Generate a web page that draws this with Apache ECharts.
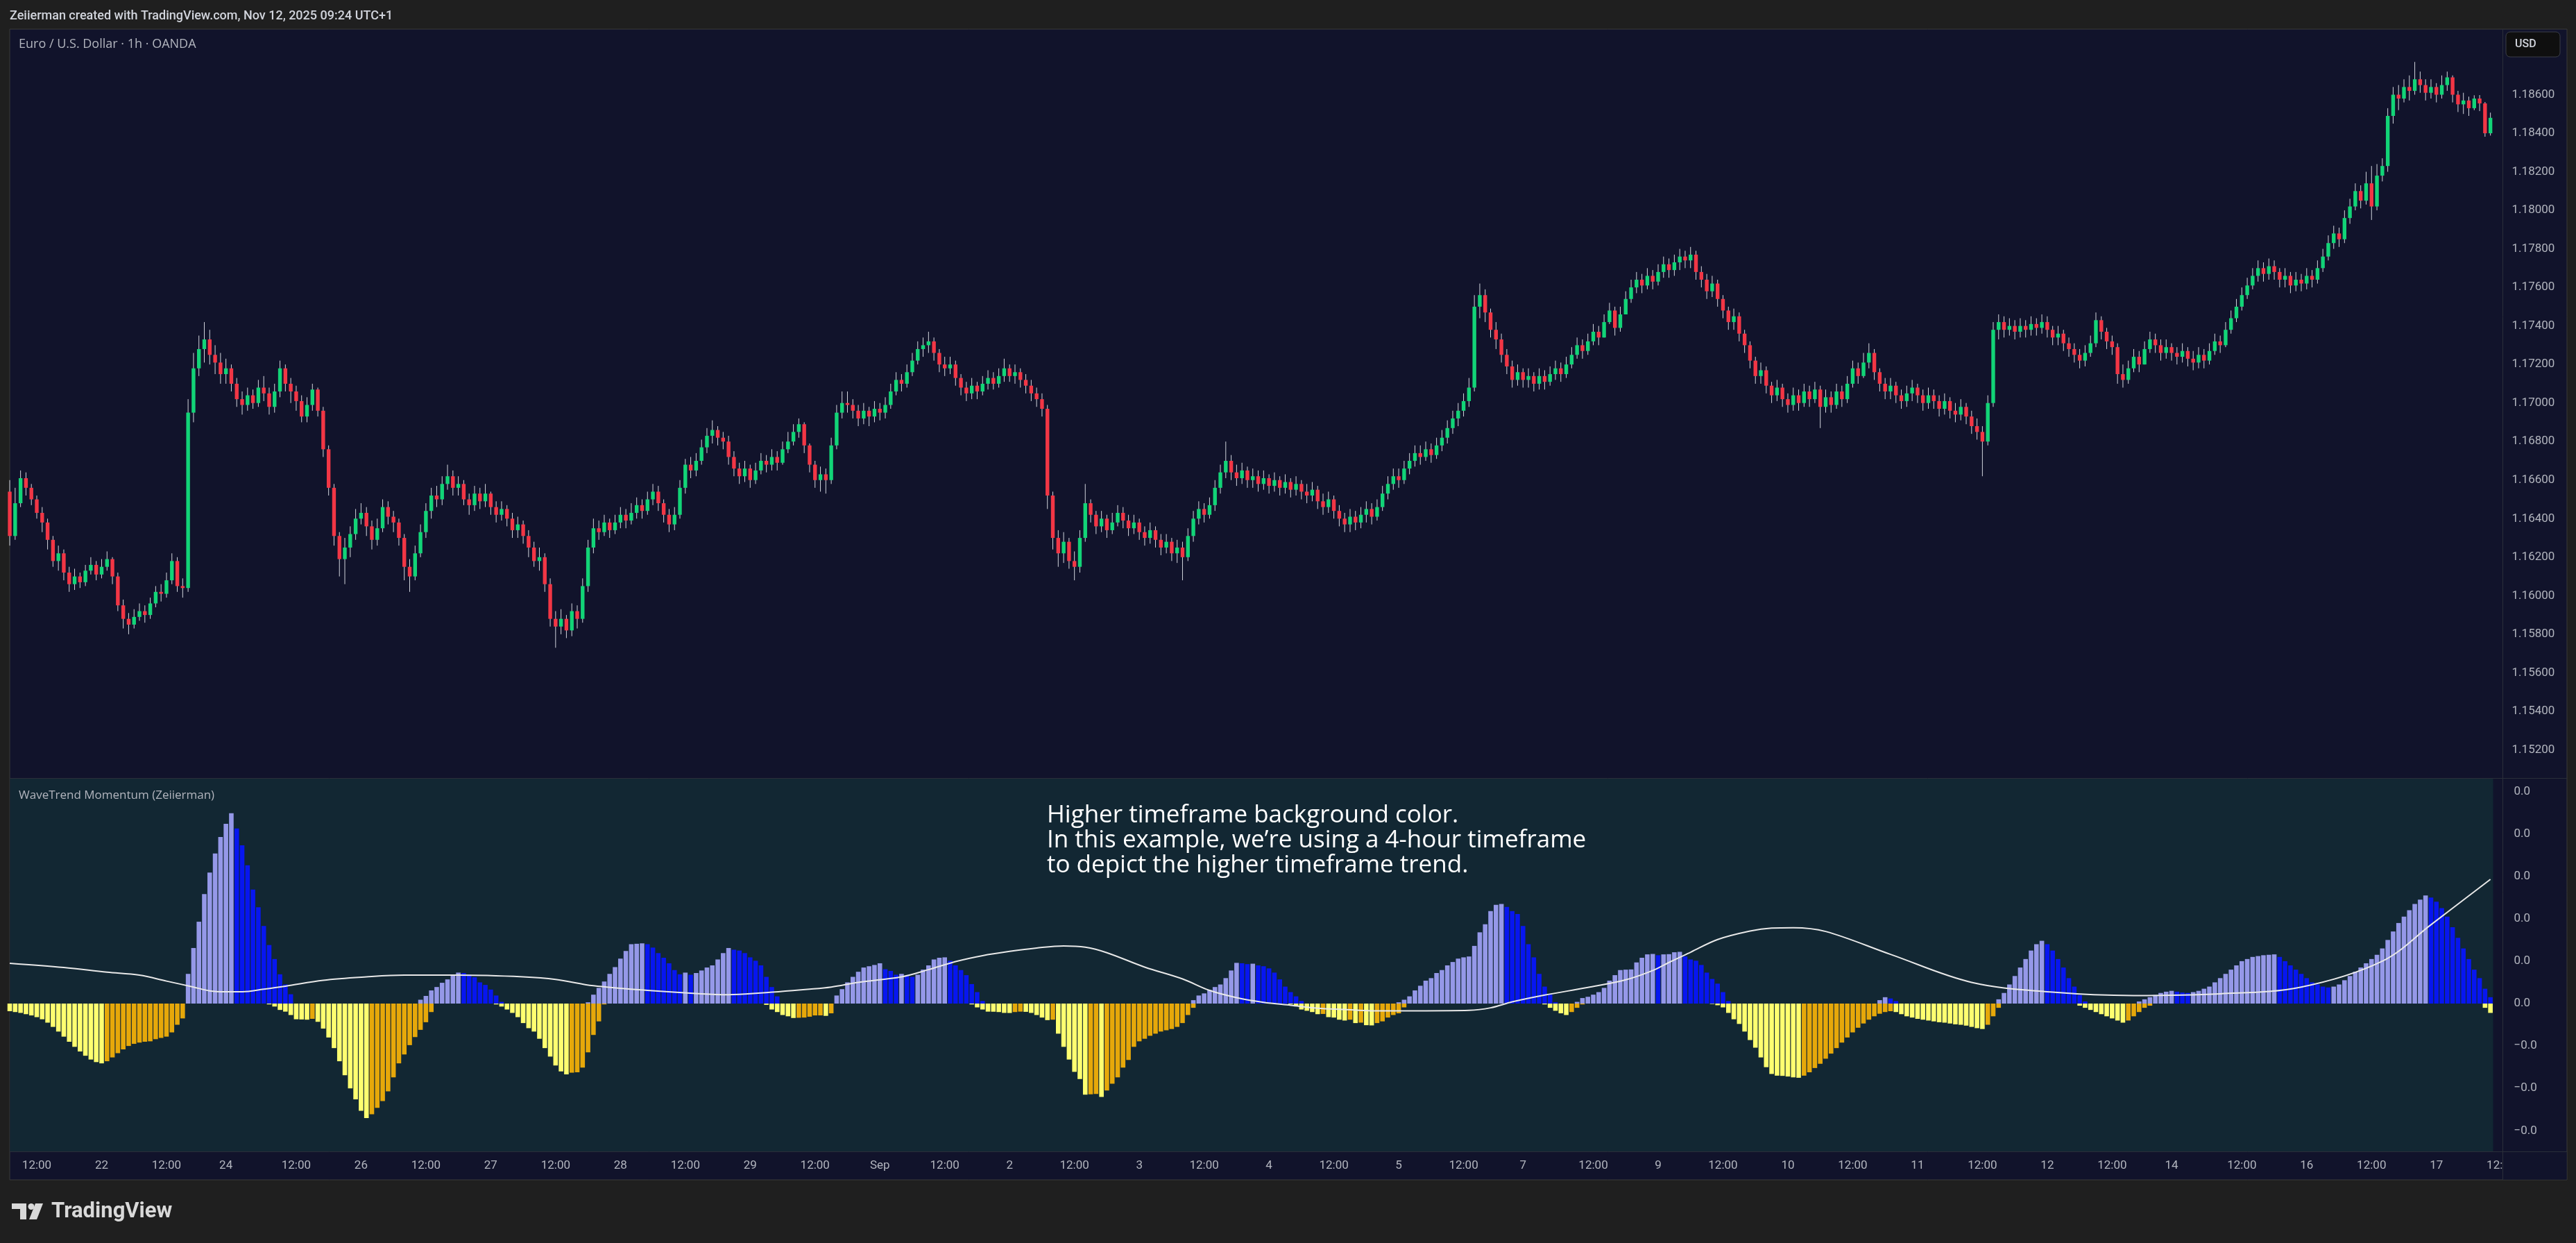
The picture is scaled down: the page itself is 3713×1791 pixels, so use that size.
<!DOCTYPE html>
<html>
<head>
<meta charset="utf-8">
<script src="https://cdn.jsdelivr.net/npm/echarts@6/dist/echarts.min.js"></script>
<style>
  html, body { margin: 0; padding: 0; background: #1f1f1f; }
  #main { width: 3713px; height: 1791px; }
</style>
</head>
<body>
<div id="main"></div>
<script>
// ---- data ----
// bottom axis labels: [bar index, text]
var timeTicks = [[5,'12:00'],[17,'22'],[29,'12:00'],[40,'24'],[53,'12:00'],[65,'26'],[77,'12:00'],[89,'27'],
  [101,'12:00'],[113,'28'],[125,'12:00'],[137,'29'],[149,'12:00'],[161,'Sep'],[173,'12:00'],[185,'2'],
  [197,'12:00'],[209,'3'],[221,'12:00'],[233,'4'],[245,'12:00'],[257,'5'],[269,'12:00'],[280,'7'],
  [293,'12:00'],[305,'9'],[317,'12:00'],[329,'10'],[341,'12:00'],[353,'11'],[365,'12:00'],[377,'12'],
  [389,'12:00'],[400,'14'],[413,'12:00'],[425,'16'],[437,'12:00'],[449,'17'],[461,'12:00']];

// EURUSD 1h candles; each bar opens at the previous close
var firstOpen = 1.16540;
var closes = [
  1.16310,1.16480,1.16610,1.16560,1.16500,1.16430,1.16380,1.16290,1.16180,1.16220,
  1.16120,1.16060,1.16100,1.16070,1.16130,1.16160,1.16110,1.16150,1.16190,1.16100,
  1.15950,1.15880,1.15850,1.15890,1.15920,1.15900,1.15960,1.16020,1.16010,1.16080,
  1.16180,1.16050,1.16040,1.16950,1.17180,1.17280,1.17330,1.17250,1.17210,1.17150,
  1.17180,1.17100,1.17020,1.16990,1.17040,1.17000,1.17080,1.17050,1.16980,1.17060,
  1.17180,1.17100,1.17060,1.17010,1.16930,1.16990,1.17070,1.16960,1.16760,1.16560,
  1.16310,1.16190,1.16250,1.16320,1.16400,1.16430,1.16360,1.16290,1.16350,1.16460,
  1.16410,1.16380,1.16300,1.16150,1.16100,1.16220,1.16330,1.16440,1.16520,1.16500,
  1.16580,1.16620,1.16560,1.16580,1.16500,1.16470,1.16530,1.16490,1.16530,1.16460,
  1.16420,1.16450,1.16400,1.16340,1.16370,1.16310,1.16250,1.16180,1.16200,1.16060,
  1.15880,1.15840,1.15880,1.15820,1.15920,1.15880,1.16050,1.16250,1.16350,1.16330,
  1.16380,1.16340,1.16380,1.16420,1.16390,1.16430,1.16470,1.16440,1.16500,1.16540,
  1.16480,1.16420,1.16370,1.16420,1.16560,1.16680,1.16650,1.16700,1.16770,1.16830,
  1.16860,1.16820,1.16800,1.16720,1.16660,1.16620,1.16660,1.16600,1.16650,1.16700,
  1.16680,1.16720,1.16690,1.16760,1.16800,1.16850,1.16890,1.16780,1.16680,1.16600,
  1.16630,1.16600,1.16780,1.16950,1.17000,1.16990,1.16960,1.16920,1.16960,1.16930,
  1.16970,1.16950,1.16990,1.17060,1.17120,1.17100,1.17160,1.17220,1.17280,1.17300,
  1.17320,1.17260,1.17200,1.17180,1.17200,1.17130,1.17080,1.17050,1.17090,1.17060,
  1.17100,1.17130,1.17100,1.17140,1.17180,1.17140,1.17160,1.17120,1.17090,1.17050,
  1.17020,1.16970,1.16520,1.16300,1.16220,1.16280,1.16180,1.16150,1.16300,1.16480,
  1.16420,1.16360,1.16400,1.16340,1.16380,1.16430,1.16390,1.16350,1.16380,1.16330,
  1.16300,1.16340,1.16290,1.16250,1.16280,1.16220,1.16250,1.16200,1.16310,1.16400,
  1.16450,1.16420,1.16470,1.16560,1.16640,1.16700,1.16640,1.16610,1.16650,1.16600,
  1.16620,1.16580,1.16610,1.16570,1.16600,1.16560,1.16590,1.16550,1.16580,1.16540,
  1.16520,1.16550,1.16490,1.16460,1.16500,1.16440,1.16400,1.16370,1.16410,1.16380,
  1.16420,1.16450,1.16410,1.16460,1.16530,1.16580,1.16620,1.16600,1.16660,1.16700,
  1.16740,1.16720,1.16760,1.16730,1.16780,1.16820,1.16870,1.16920,1.16960,1.17010,
  1.17080,1.17500,1.17560,1.17470,1.17380,1.17330,1.17250,1.17190,1.17120,1.17160,
  1.17120,1.17140,1.17100,1.17140,1.17110,1.17150,1.17180,1.17150,1.17200,1.17250,
  1.17300,1.17270,1.17320,1.17370,1.17340,1.17420,1.17480,1.17390,1.17460,1.17540,
  1.17600,1.17640,1.17610,1.17660,1.17630,1.17680,1.17720,1.17690,1.17730,1.17760,
  1.17740,1.17770,1.17680,1.17640,1.17580,1.17620,1.17540,1.17480,1.17420,1.17450,
  1.17360,1.17300,1.17220,1.17140,1.17170,1.17090,1.17040,1.17080,1.17020,1.16990,
  1.17040,1.17000,1.17060,1.17020,1.17070,1.16980,1.17030,1.16990,1.17060,1.17020,
  1.17100,1.17180,1.17140,1.17210,1.17260,1.17160,1.17100,1.17060,1.17090,1.17040,
  1.17010,1.17050,1.17080,1.17040,1.17000,1.17040,1.17010,1.16970,1.17010,1.16960,
  1.16940,1.16980,1.16930,1.16880,1.16850,1.16800,1.17000,1.17380,1.17420,1.17380,
  1.17400,1.17370,1.17400,1.17380,1.17410,1.17390,1.17420,1.17380,1.17340,1.17360,
  1.17310,1.17280,1.17250,1.17220,1.17260,1.17310,1.17430,1.17370,1.17320,1.17290,
  1.17150,1.17120,1.17180,1.17240,1.17200,1.17280,1.17330,1.17300,1.17260,1.17290,
  1.17260,1.17240,1.17270,1.17230,1.17210,1.17250,1.17220,1.17270,1.17320,1.17300,
  1.17380,1.17440,1.17500,1.17560,1.17610,1.17660,1.17700,1.17670,1.17710,1.17680,
  1.17640,1.17660,1.17610,1.17640,1.17620,1.17660,1.17640,1.17700,1.17760,1.17830,
  1.17880,1.17850,1.17960,1.18020,1.18100,1.18050,1.18140,1.18020,1.18180,1.18230,
  1.18490,1.18600,1.18580,1.18640,1.18620,1.18680,1.18650,1.18610,1.18640,1.18600,
  1.18650,1.18690,1.18600,1.18550,1.18570,1.18530,1.18580,1.18555,1.18400,1.18480
];
var highs = [
  1.16600,1.16560,1.16650,1.16640,1.16580,1.16520,1.16460,1.16400,1.16310,1.16260,
  1.16240,1.16150,1.16140,1.16120,1.16160,1.16200,1.16180,1.16190,1.16230,1.16200,
  1.16120,1.15980,1.15910,1.15930,1.15960,1.15950,1.15990,1.16050,1.16060,1.16120,
  1.16220,1.16200,1.16090,1.17020,1.17260,1.17350,1.17420,1.17380,1.17300,1.17260,
  1.17230,1.17200,1.17130,1.17060,1.17080,1.17070,1.17120,1.17140,1.17080,1.17100,
  1.17220,1.17200,1.17130,1.17090,1.17040,1.17030,1.17100,1.17080,1.16980,1.16780,
  1.16580,1.16330,1.16300,1.16360,1.16450,1.16480,1.16460,1.16390,1.16400,1.16500,
  1.16490,1.16440,1.16400,1.16320,1.16190,1.16260,1.16370,1.16480,1.16560,1.16570,
  1.16620,1.16680,1.16650,1.16620,1.16600,1.16530,1.16570,1.16560,1.16580,1.16540,
  1.16490,1.16490,1.16470,1.16430,1.16410,1.16390,1.16340,1.16280,1.16250,1.16220,
  1.16090,1.15920,1.15930,1.15900,1.15960,1.15950,1.16090,1.16290,1.16400,1.16390,
  1.16420,1.16400,1.16420,1.16460,1.16450,1.16480,1.16510,1.16500,1.16540,1.16580,
  1.16570,1.16500,1.16450,1.16460,1.16600,1.16710,1.16720,1.16740,1.16810,1.16870,
  1.16910,1.16880,1.16850,1.16830,1.16750,1.16690,1.16700,1.16680,1.16690,1.16740,
  1.16730,1.16760,1.16750,1.16800,1.16850,1.16890,1.16920,1.16900,1.16790,1.16700,
  1.16670,1.16660,1.16820,1.16990,1.17060,1.17060,1.17020,1.16990,1.17000,1.16980,
  1.17010,1.17000,1.17030,1.17100,1.17160,1.17150,1.17200,1.17260,1.17320,1.17340,
  1.17370,1.17340,1.17280,1.17240,1.17240,1.17220,1.17150,1.17110,1.17130,1.17110,
  1.17140,1.17170,1.17160,1.17180,1.17230,1.17200,1.17200,1.17180,1.17150,1.17120,
  1.17080,1.17050,1.16990,1.16540,1.16340,1.16330,1.16300,1.16230,1.16340,1.16580,
  1.16500,1.16440,1.16440,1.16420,1.16430,1.16470,1.16460,1.16420,1.16420,1.16400,
  1.16360,1.16380,1.16360,1.16320,1.16320,1.16300,1.16290,1.16280,1.16350,1.16440,
  1.16490,1.16480,1.16510,1.16600,1.16680,1.16800,1.16730,1.16680,1.16690,1.16670,
  1.16660,1.16650,1.16650,1.16630,1.16640,1.16620,1.16630,1.16610,1.16620,1.16600,
  1.16580,1.16590,1.16570,1.16530,1.16540,1.16520,1.16470,1.16430,1.16450,1.16440,
  1.16460,1.16490,1.16480,1.16500,1.16570,1.16620,1.16660,1.16660,1.16700,1.16740,
  1.16780,1.16780,1.16800,1.16790,1.16820,1.16860,1.16910,1.16960,1.17000,1.17050,
  1.17130,1.17560,1.17620,1.17590,1.17490,1.17420,1.17360,1.17280,1.17220,1.17200,
  1.17180,1.17180,1.17160,1.17180,1.17170,1.17190,1.17220,1.17210,1.17240,1.17290,
  1.17340,1.17330,1.17360,1.17410,1.17400,1.17460,1.17520,1.17500,1.17500,1.17580,
  1.17640,1.17680,1.17670,1.17700,1.17690,1.17720,1.17760,1.17750,1.17770,1.17800,
  1.17790,1.17810,1.17790,1.17710,1.17670,1.17660,1.17640,1.17560,1.17500,1.17490,
  1.17470,1.17380,1.17320,1.17240,1.17210,1.17190,1.17110,1.17120,1.17100,1.17050,
  1.17080,1.17070,1.17100,1.17090,1.17110,1.17090,1.17070,1.17060,1.17100,1.17090,
  1.17140,1.17220,1.17210,1.17260,1.17310,1.17280,1.17180,1.17130,1.17130,1.17110,
  1.17070,1.17090,1.17120,1.17100,1.17070,1.17080,1.17070,1.17040,1.17050,1.17030,
  1.17000,1.17020,1.17000,1.16960,1.16920,1.16880,1.17040,1.17420,1.17460,1.17450,
  1.17440,1.17430,1.17440,1.17430,1.17450,1.17440,1.17460,1.17450,1.17400,1.17400,
  1.17380,1.17340,1.17310,1.17280,1.17300,1.17350,1.17470,1.17450,1.17390,1.17350,
  1.17310,1.17200,1.17220,1.17280,1.17270,1.17320,1.17370,1.17360,1.17330,1.17330,
  1.17310,1.17290,1.17310,1.17290,1.17270,1.17290,1.17280,1.17310,1.17360,1.17350,
  1.17420,1.17480,1.17540,1.17600,1.17650,1.17700,1.17740,1.17730,1.17750,1.17740,
  1.17700,1.17700,1.17680,1.17680,1.17670,1.17700,1.17690,1.17740,1.17800,1.17870,
  1.17920,1.17910,1.18000,1.18060,1.18140,1.18130,1.18200,1.18230,1.18240,1.18270,
  1.18530,1.18640,1.18650,1.18680,1.18700,1.18770,1.18720,1.18680,1.18680,1.18660,
  1.18700,1.18720,1.18700,1.18620,1.18610,1.18590,1.18597,1.18598,1.18562,1.18507
];
var lows = [
  1.16260,1.16290,1.16460,1.16520,1.16470,1.16400,1.16330,1.16240,1.16150,1.16130,
  1.16080,1.16020,1.16030,1.16040,1.16050,1.16110,1.16080,1.16090,1.16130,1.16060,
  1.15920,1.15830,1.15800,1.15830,1.15870,1.15860,1.15880,1.15940,1.15970,1.15990,
  1.16060,1.16020,1.15990,1.16020,1.16900,1.17140,1.17210,1.17200,1.17150,1.17100,
  1.17100,1.17060,1.16980,1.16940,1.16960,1.16970,1.16980,1.17010,1.16940,1.16950,
  1.17030,1.17060,1.17000,1.16960,1.16900,1.16900,1.16960,1.16930,1.16720,1.16520,
  1.16260,1.16100,1.16060,1.16200,1.16290,1.16370,1.16310,1.16240,1.16260,1.16330,
  1.16370,1.16330,1.16260,1.16080,1.16020,1.16080,1.16200,1.16300,1.16400,1.16460,
  1.16470,1.16550,1.16520,1.16520,1.16470,1.16420,1.16440,1.16450,1.16460,1.16420,
  1.16380,1.16390,1.16360,1.16300,1.16300,1.16270,1.16200,1.16150,1.16130,1.16020,
  1.15840,1.15730,1.15800,1.15780,1.15790,1.15830,1.15860,1.16020,1.16220,1.16290,
  1.16310,1.16300,1.16320,1.16350,1.16350,1.16370,1.16400,1.16400,1.16420,1.16470,
  1.16440,1.16380,1.16330,1.16340,1.16400,1.16530,1.16610,1.16620,1.16680,1.16740,
  1.16790,1.16780,1.16760,1.16680,1.16620,1.16580,1.16590,1.16560,1.16580,1.16630,
  1.16640,1.16650,1.16650,1.16680,1.16740,1.16780,1.16820,1.16740,1.16640,1.16560,
  1.16540,1.16530,1.16580,1.16760,1.16920,1.16950,1.16920,1.16880,1.16890,1.16880,
  1.16900,1.16910,1.16920,1.16970,1.17040,1.17060,1.17080,1.17140,1.17200,1.17240,
  1.17260,1.17220,1.17160,1.17140,1.17150,1.17090,1.17040,1.17010,1.17020,1.17020,
  1.17040,1.17070,1.17070,1.17080,1.17110,1.17110,1.17100,1.17080,1.17050,1.17010,
  1.16980,1.16930,1.16450,1.16240,1.16150,1.16170,1.16140,1.16080,1.16120,1.16280,
  1.16380,1.16320,1.16330,1.16300,1.16320,1.16360,1.16350,1.16310,1.16320,1.16290,
  1.16260,1.16270,1.16250,1.16210,1.16220,1.16180,1.16170,1.16080,1.16180,1.16280,
  1.16370,1.16380,1.16400,1.16440,1.16530,1.16610,1.16600,1.16570,1.16580,1.16560,
  1.16560,1.16540,1.16550,1.16530,1.16540,1.16520,1.16530,1.16510,1.16520,1.16500,
  1.16480,1.16490,1.16450,1.16420,1.16430,1.16400,1.16360,1.16330,1.16330,1.16340,
  1.16350,1.16380,1.16370,1.16390,1.16440,1.16500,1.16550,1.16560,1.16580,1.16630,
  1.16670,1.16680,1.16700,1.16690,1.16710,1.16750,1.16790,1.16840,1.16880,1.16930,
  1.16980,1.17060,1.17440,1.17420,1.17340,1.17280,1.17210,1.17150,1.17080,1.17090,
  1.17080,1.17080,1.17060,1.17070,1.17070,1.17090,1.17120,1.17110,1.17130,1.17180,
  1.17230,1.17230,1.17250,1.17300,1.17300,1.17350,1.17410,1.17350,1.17370,1.17460,
  1.17520,1.17570,1.17570,1.17590,1.17590,1.17610,1.17650,1.17650,1.17660,1.17690,
  1.17700,1.17700,1.17640,1.17600,1.17540,1.17550,1.17500,1.17440,1.17380,1.17380,
  1.17320,1.17260,1.17180,1.17100,1.17100,1.17050,1.17000,1.17010,1.16980,1.16950,
  1.16960,1.16960,1.16980,1.16980,1.17000,1.16870,1.16950,1.16950,1.16970,1.16980,
  1.17000,1.17080,1.17100,1.17130,1.17180,1.17120,1.17060,1.17020,1.17020,1.17000,
  1.16970,1.16980,1.17010,1.17000,1.16960,1.16970,1.16970,1.16930,1.16940,1.16920,
  1.16900,1.16910,1.16890,1.16840,1.16810,1.16620,1.16780,1.16980,1.17330,1.17340,
  1.17350,1.17330,1.17340,1.17340,1.17350,1.17350,1.17360,1.17340,1.17300,1.17300,
  1.17270,1.17240,1.17210,1.17180,1.17190,1.17240,1.17290,1.17330,1.17280,1.17250,
  1.17100,1.17080,1.17100,1.17160,1.17160,1.17200,1.17260,1.17260,1.17220,1.17230,
  1.17220,1.17200,1.17210,1.17190,1.17170,1.17180,1.17180,1.17200,1.17250,1.17260,
  1.17290,1.17360,1.17420,1.17480,1.17540,1.17590,1.17630,1.17630,1.17640,1.17640,
  1.17600,1.17600,1.17570,1.17580,1.17580,1.17590,1.17600,1.17620,1.17680,1.17740,
  1.17800,1.17810,1.17830,1.17930,1.18000,1.18010,1.18030,1.17950,1.18000,1.18150,
  1.18200,1.18450,1.18520,1.18560,1.18570,1.18600,1.18610,1.18570,1.18580,1.18560,
  1.18580,1.18620,1.18560,1.18510,1.18500,1.18490,1.18520,1.18515,1.18382,1.18388
];

// WaveTrend momentum, bull part (>= 0)
var bullHist = [
  0,0,0,0,0,0,0,0,0,0,0,0,0,0,0,0,0,0,0,0,
  0,0,0,0,0,0,0,0,0,0,0,0,0,
  0.00070,0.00131,0.00193,0.00258,0.00309,0.00354,0.00393,0.00424,0.00449,0.00413,
  0.00373,0.00326,0.00269,0.00227,0.00183,0.00138,0.00105,0.00069,0.00045,0.00022,
  0,0,0,0,0,0,0,0,0,0,0,0,0,0,0,0,0,0,0,0,0,0,0,
  0.00009,0.00018,0.00031,0.00039,0.00049,0.00057,0.00068,0.00073,0.00072,0.00068,
  0.00062,0.00050,0.00044,0.00033,0.00019,0.00004,
  0,0,0,0,0,0,0,0,0,0,0,0,0,0,0,
  0.00003,0.00021,0.00037,0.00052,0.00070,0.00086,0.00106,0.00124,0.00140,0.00141,
  0.00142,0.00140,0.00132,0.00119,0.00108,0.00095,0.00079,0.00069,0.00073,0.00068,
  0.00072,0.00078,0.00085,0.00090,0.00104,0.00119,0.00131,0.00127,0.00125,0.00119,
  0.00109,0.00101,0.00090,0.00063,0.00039,0.00017,
  0,0,0,0,0,0,0,0,0,0,
  0.00019,0.00034,0.00050,0.00063,0.00075,0.00085,0.00088,0.00091,0.00095,0.00081,
  0.00077,0.00068,0.00070,0.00065,0.00063,0.00068,0.00080,0.00090,0.00104,0.00108,
  0.00109,0.00101,0.00090,0.00079,0.00067,0.00046,0.00027,0.00006,
  0,0,0,0,0,0,0,0,0,0,0,0,0,0,0,0,0,0,0,0,0,0,0,0,0,0,0,0,0,0,0,0,0,0,0,0,0,0,
  0.00008,0.00019,0.00024,0.00032,0.00039,0.00045,0.00060,0.00078,0.00096,0.00095,
  0.00093,0.00094,0.00090,0.00088,0.00083,0.00073,0.00057,0.00040,0.00027,0.00017,0.00006,
  0,0,0,0,0,0,0,0,0,0,0,0,0,0,0,0,0,
  0.00003,0.00009,0.00017,0.00031,0.00042,0.00054,0.00060,0.00072,0.00079,0.00090,
  0.00098,0.00106,0.00109,0.00111,0.00136,0.00168,0.00187,0.00218,0.00233,0.00235,
  0.00228,0.00218,0.00211,0.00183,0.00140,0.00109,0.00070,0.00040,0.00021,0.00003,
  0,0,0,
  0.00004,0.00013,0.00016,0.00021,0.00027,0.00037,0.00054,0.00067,0.00079,0.00080,
  0.000805,0.00097,0.00108,0.00116,0.00117,0.00114,0.00116,0.001165,0.00121,0.00122,
  0.00111,0.00104,0.00101,0.00091,0.00073,0.00058,0.00047,0.00027,0.00006,
  0,0,0,0,0,0,0,0,0,0,0,0,0,0,0,0,0,0,0,0,0,0,0,0,0,0,0,
  0.00008,0.00015,0.00012,0.00006,
  0,0,0,0,0,0,0,0,0,0,0,0,0,0,0,0,0,0,
  0.00010,0.00025,0.00045,0.00065,0.00085,0.00105,0.00125,0.00140,0.00148,0.00140,
  0.00125,0.00105,0.00085,0.00060,0.00040,0.00020,0.00005,
  0,0,0,0,0,0,0,0,0,
  0.00005,0.00010,0.00015,0.00020,0.00025,0.00028,0.00030,0.00028,0.00026,0.00025,0.00027,0.00030,0.00035,
  0.00040,0.00050,0.00060,0.00070,0.00080,0.00090,0.00100,0.00105,0.00110,0.00112,
  0.00114,0.00115,0.00116,0.00110,0.00100,0.00090,0.00080,0.00070,0.00060,0.00050,
  0.00045,0.00040,0.00038,0.00040,
  0.00045,0.00055,0.00065,0.00075,0.00085,0.00095,0.00105,0.00115,0.00130,0.00150,
  0.00170,0.00190,0.00205,0.00220,0.00235,0.00245,0.00255,0.00250,0.00240,0.00225,
  0.00205,0.00180,0.00155,0.00130,0.00105,0.00080,0.00060,0.00035,0.00015
];

// WaveTrend momentum, bear part (<= 0)
var bearHist = [
  -0.00018,-0.00020,-0.00022,-0.00025,-0.00028,-0.00032,-0.00037,-0.00045,-0.00055,-0.00066,
  -0.00078,-0.00090,-0.00102,-0.00113,-0.00123,-0.00132,-0.00138,-0.00141,-0.00136,-0.00127,
  -0.00117,-0.00108,-0.00100,-0.00095,
  -0.00092,-0.00090,-0.00089,-0.00084,-0.00081,-0.00078,-0.00068,-0.00050,-0.00035,
  0,0,0,0,0,0,0,0,0,0,0,0,0,0,0,
  -0.00002,-0.00007,-0.00015,-0.00019,-0.00027,-0.00037,-0.000375,-0.00038,-0.00036,-0.00043,
  -0.00059,-0.00080,-0.00105,-0.00136,-0.00169,-0.00200,-0.00226,-0.00253,-0.00270,-0.00261,
  -0.00246,-0.00230,-0.00207,-0.00174,-0.00141,-0.00120,-0.00098,-0.00079,-0.00062,-0.00044,-0.00020,
  0,0,0,0,0,0,0,0,0,0,0,
  -0.00002,-0.00007,-0.00014,-0.00022,-0.00032,-0.00046,-0.00058,-0.00066,-0.00083,-0.00105,
  -0.00125,-0.00146,-0.00160,-0.00167,-0.00163,-0.00162,-0.00151,-0.00115,-0.00074,-0.00042,-0.00002,
  0,0,0,0,0,0,0,0,0,0,0,0,0,0,0,0,0,0,0,0,0,0,0,0,0,0,0,0,0,
  -0.00003,-0.00014,-0.00020,-0.00027,-0.00030,-0.00034,-0.000335,-0.00033,-0.00031,-0.00028,
  -0.000279,-0.00029,-0.00023,
  0,0,0,0,0,0,0,0,0,0,0,0,0,0,0,0,0,0,0,0,0,0,0,0,0,
  -0.00002,-0.00009,-0.00014,-0.00019,-0.000192,-0.00020,-0.00022,-0.000222,-0.00020,-0.00019,
  -0.000195,-0.00022,-0.00027,-0.00033,-0.00039,-0.00038,-0.00071,-0.00102,-0.00132,-0.00161,
  -0.00178,-0.00215,-0.00214,-0.00213,-0.00220,-0.00205,-0.00189,-0.00174,-0.00151,-0.00133,
  -0.00102,-0.00089,-0.00083,-0.00076,-0.00071,-0.00066,-0.00063,-0.00060,-0.00055,-0.00046,
  -0.00027,-0.00010,
  0,0,0,0,0,0,0,0,0,0,0,0,0,0,0,0,0,
  -0.00002,-0.00005,-0.00014,-0.00017,-0.00020,-0.00025,-0.000245,-0.00032,-0.00033,-0.00038,
  -0.00040,-0.00038,-0.00046,-0.00045,-0.00051,-0.000515,-0.00046,-0.00042,-0.00033,-0.00027,
  -0.00023,-0.00009,
  0,0,0,0,0,0,0,0,0,0,0,0,0,0,0,0,0,0,0,0,0,0,0,0,0,
  -0.00002,-0.00010,-0.00017,-0.00023,-0.00027,-0.00020,-0.00010,-0.00002,
  0,0,0,0,0,0,0,0,0,0,0,0,0,0,0,0,0,0,0,0,0,0,0,
  -0.00001,-0.00004,-0.00009,-0.00022,-0.00037,-0.00048,-0.00066,-0.00086,-0.00104,-0.00127,
  -0.00150,-0.00166,-0.00170,-0.001705,-0.00172,
  -0.00174,-0.00175,-0.00170,-0.00162,-0.00152,-0.00142,-0.00130,-0.00118,-0.00105,-0.00092,
  -0.00080,-0.00068,-0.00057,-0.00047,-0.00038,-0.00030,-0.00024,-0.00020,-0.00018,-0.00020,
  -0.00025,-0.00030,-0.00033,-0.00036,-0.00038,-0.00040,-0.00042,-0.00044,-0.00045,-0.00047,
  -0.00049,-0.00050,-0.00052,-0.00055,-0.00058,-0.00060,-0.00050,-0.00030,-0.00010,
  0,0,0,0,0,0,0,0,0,0,0,0,0,0,
  -0.00005,-0.00010,-0.00015,-0.00020,-0.00025,-0.00030,-0.00035,-0.00040,-0.00045,-0.00040,
  -0.00030,-0.00020,-0.00010,-0.00005,
  0,0,0,0,0,0,0,0,0,0,0,0,0,0,0,0,0,0,0,0,0,0,0,0,0,0,0,0,0,0,
  0,0,0,0,0,0,0,0,0,0,0,0,0,0,0,0,0,0,0,0,0,0,0,0,0,0,0,0,0,0,0,
  -0.00010,-0.00022
];

// smoothed signal line, read at [bar index, value]
var signalLine = [[0,0.00095],[10,0.00085],[18,0.00074],[24,0.00067],[29,0.00053],[34,0.00039],
  [37,0.00030],[40,0.00028],[43,0.00028],[47,0.00034],[51,0.00041],[58,0.00055],[66,0.00063],
  [73,0.00067],[83,0.00067],[95,0.00063],[101,0.00057],[108,0.00042],[118,0.00031],[128,0.00023],
  [133,0.00021],[138,0.00024],[148,0.00034],[152,0.00039],[157,0.00050],[165,0.00063],[170,0.00080],
  [175,0.00099],[180,0.00113],[185,0.00123],[190,0.00131],[195,0.00136],[199,0.00133],[203,0.00120],
  [210,0.00086],[217,0.00058],[222,0.00031],[227,0.00014],[232,0.00003],[237,-0.00004],[242,-0.00011],
  [247,-0.00014],[252,-0.00017],[262,-0.00017],[270,-0.00016],[274,-0.00010],[278,0.00004],
  [284,0.00020],[292,0.00038],[299,0.00056],[304,0.00078],[307,0.00097],[311,0.00121],[316,0.00151],
  [322,0.00171],[326,0.00178],[330,0.00179],[336,0.00170],[348,0.00116],[363,0.00050],[378,0.00027],
  [393,0.00019],[409,0.00023],[424,0.00039],[439,0.00100],[448,0.00186],[459,0.00293]];

// ---- layout ----
var N = closes.length;
var PITCH = 7.79;
var PLOT_LEFT = 14.05 - PITCH / 2;
var PLOT_W = N * PITCH;
var FRAME = { x: 14, y: 42, r: 3700, b: 1700 };
var PANE_SPLIT = 1121.5;
var TIME_TOP = 1659.5;
var AXIS_X = 3607.5;

var NAVY = '#11132b';
var TEAL = '#122733';
var LINE_C = '#2a2e39';
var TXT = '#b2b5be';
var UP = '#12d477';
var DOWN = '#f23645';
var WICK = '#d1d4dc';
var LAV = '#9598e8';
var BLUE = '#0716f0';
var YEL = '#ffff70';
var ORG = '#e6a80a';

var cats = [];
var tickMap = {};
timeTicks.forEach(function (t) { tickMap[t[0]] = t[1]; });
for (var i = 0; i < N; i++) cats.push(tickMap[i] !== undefined ? tickMap[i] : '');

var candleData = [];
for (var k = 0; k < N; k++) {
  var o = k === 0 ? firstOpen : closes[k - 1];
  candleData.push([k, o, closes[k], lows[k], highs[k]]);
}

function renderCandle(params, api) {
  var idx = api.value(0);
  var ov = api.value(1), cv = api.value(2);
  var hiV = Math.max(api.value(4), ov, cv);
  var loV = Math.min(api.value(3), ov, cv);
  var o = api.coord([idx, ov]);
  var c = api.coord([idx, cv]);
  var l = api.coord([idx, loV]);
  var h = api.coord([idx, hiV]);
  var bw = 5.4;
  var top = Math.min(o[1], c[1]);
  var bot = Math.max(o[1], c[1]);
  return {
    type: 'group',
    children: [
      { type: 'line', shape: { x1: h[0], y1: h[1], x2: l[0], y2: l[1] }, style: { stroke: WICK, lineWidth: 1 } },
      { type: 'rect', shape: { x: o[0] - bw / 2, y: top, width: bw, height: Math.max(bot - top, 1) },
        style: { fill: cv >= ov ? UP : DOWN } }
    ]
  };
}

var chart = echarts.init(document.getElementById('main'), null, { renderer: 'canvas' });
var FONT = 'Roboto, "Noto Sans", sans-serif';
var FONT2 = '"Open Sans", Roboto, sans-serif';

var option = {
  animation: false,
  backgroundColor: '#1f1f1f',
  grid: [
    { left: PLOT_LEFT, width: PLOT_W, top: 25.4, height: 1110.6 },
    { left: PLOT_LEFT, width: PLOT_W, top: 1079.4, height: 611 }
  ],
  xAxis: [
    { type: 'category', gridIndex: 0, data: cats, boundaryGap: true,
      axisLine: { show: false }, axisTick: { show: false }, axisLabel: { show: false }, splitLine: { show: false } },
    { type: 'category', gridIndex: 1, data: cats, boundaryGap: true, offset: -31,
      axisLine: { show: false }, axisTick: { show: false }, splitLine: { show: false },
      axisLabel: {
        interval: function (index) { return tickMap[index] !== undefined; },
        color: TXT, fontFamily: FONT, fontSize: 17, margin: 12
      } }
  ],
  yAxis: [
    { type: 'value', gridIndex: 0, position: 'right', min: 1.15, max: 1.19, interval: 0.002,
      axisLine: { show: false }, axisTick: { show: false }, splitLine: { show: false },
      axisLabel: {
        margin: 27, color: TXT, fontFamily: FONT, fontSize: 17, align: 'left',
        formatter: function (v) { return (v > 1.1519 && v < 1.1861) ? v.toFixed(5) : ''; }
      } },
    { type: 'value', gridIndex: 1, position: 'right', min: -0.004, max: 0.006, interval: 0.001,
      axisLine: { show: false }, axisTick: { show: false }, splitLine: { show: false },
      axisLabel: {
        margin: 30, color: TXT, fontFamily: FONT, fontSize: 17, align: 'left',
        formatter: function (v) {
          if (v < -0.00351 || v > 0.00551) return '';
          return v < -1e-9 ? '\u22120.0' : '0.0';
        }
      } }
  ],
  series: [
    { type: 'custom', xAxisIndex: 0, yAxisIndex: 0, renderItem: renderCandle, data: candleData, z: 3 },
    { type: 'bar', xAxisIndex: 1, yAxisIndex: 1, data: bullHist, barWidth: 6.6, barGap: '-100%', z: 3,
      itemStyle: { color: function (p) {
        var prev = p.dataIndex > 0 ? bullHist[p.dataIndex - 1] : 0;
        return p.value >= prev ? LAV : BLUE;
      } } },
    { type: 'bar', xAxisIndex: 1, yAxisIndex: 1, data: bearHist, barWidth: 6.6, barGap: '-100%', z: 3,
      itemStyle: { color: function (p) {
        var prev = p.dataIndex > 0 ? bearHist[p.dataIndex - 1] : 0;
        return p.value < prev ? YEL : ORG;
      } } },
    { type: 'line', xAxisIndex: 1, yAxisIndex: 1, data: signalLine, smooth: 0.35,
      showSymbol: false, z: 4, lineStyle: { color: '#e8e8e8', width: 2 } }
  ],
  graphic: [
    { type: 'rect', z: -10, shape: { x: FRAME.x, y: FRAME.y, width: FRAME.r - FRAME.x, height: FRAME.b - FRAME.y },
      style: { fill: NAVY, stroke: '#3a3a3a', lineWidth: 1 } },
    { type: 'rect', z: -9, shape: { x: FRAME.x + 0.5, y: PANE_SPLIT + 0.5, width: PLOT_LEFT + PLOT_W - FRAME.x - 0.5, height: TIME_TOP - PANE_SPLIT - 1 },
      style: { fill: TEAL } },
    { type: 'line', z: -8, shape: { x1: FRAME.x, y1: PANE_SPLIT, x2: FRAME.r, y2: PANE_SPLIT }, style: { stroke: LINE_C, lineWidth: 1 } },
    { type: 'line', z: -8, shape: { x1: FRAME.x, y1: TIME_TOP, x2: FRAME.r, y2: TIME_TOP }, style: { stroke: LINE_C, lineWidth: 1 } },
    { type: 'text', z: 20, style: { x: PLOT_LEFT + (461 + 0.5) * PITCH, y: 1680, text: '12:00', fill: TXT,
      font: '17px ' + FONT, textAlign: 'center', textVerticalAlign: 'middle' } },
    { type: 'rect', z: 21, shape: { x: AXIS_X, y: TIME_TOP + 0.5, width: FRAME.r - AXIS_X - 0.5, height: FRAME.b - TIME_TOP - 1 },
      style: { fill: NAVY } },
    { type: 'line', z: 22, shape: { x1: AXIS_X, y1: FRAME.y, x2: AXIS_X, y2: FRAME.b }, style: { stroke: LINE_C, lineWidth: 1 } },
    { type: 'text', z: 20, style: { x: 14, y: 23, text: 'Zeiierman created with TradingView.com, Nov 12, 2025 09:24 UTC+1',
      fill: '#d1d4dc', font: '500 18px ' + FONT, textVerticalAlign: 'middle' } },
    { type: 'text', z: 20, style: { x: 27, y: 64, text: 'Euro / U.S. Dollar \u00b7 1h \u00b7 OANDA',
      fill: TXT, font: '18px ' + FONT2, textVerticalAlign: 'middle' } },
    { type: 'text', z: 20, style: { x: 27, y: 1146, text: 'WaveTrend Momentum (Zeiierman)',
      fill: TXT, font: '17px ' + FONT2, textVerticalAlign: 'middle' } },
    { type: 'text', z: 20, style: { x: 1509, y: 1157,
      text: 'Higher timeframe background color.\nIn this example, we\u2019re using a 4-hour timeframe\nto depict the higher timeframe trend.',
      fill: '#ffffff', font: '35px ' + FONT2, lineHeight: 36 } },
    { type: 'rect', z: 20, shape: { x: 3612, y: 46, width: 78, height: 36, r: 6 },
      style: { fill: '#0f0f0f', stroke: '#3c3f48', lineWidth: 1 } },
    { type: 'text', z: 21, style: { x: 3625, y: 64, text: 'USD', fill: '#d1d4dc', font: '500 16px ' + FONT, textVerticalAlign: 'middle' } },
    // TradingView logo
    { type: 'rect', z: 20, shape: { x: 17, y: 1734, width: 21, height: 8 }, style: { fill: '#d9d9d9' } },
    { type: 'rect', z: 20, shape: { x: 29, y: 1734, width: 9, height: 23 }, style: { fill: '#d9d9d9' } },
    { type: 'circle', z: 20, shape: { cx: 45, cy: 1738.5, r: 4.5 }, style: { fill: '#d9d9d9' } },
    { type: 'polygon', z: 20, shape: { points: [[51, 1734], [62, 1734], [53, 1757], [42, 1757]] }, style: { fill: '#d9d9d9' } },
    { type: 'text', z: 20, style: { x: 74, y: 1746, text: 'TradingView', fill: '#d9d9d9',
      font: 'bold 31px ' + FONT, textVerticalAlign: 'middle' } }
  ]
};
chart.setOption(option);
</script>
</body>
</html>
